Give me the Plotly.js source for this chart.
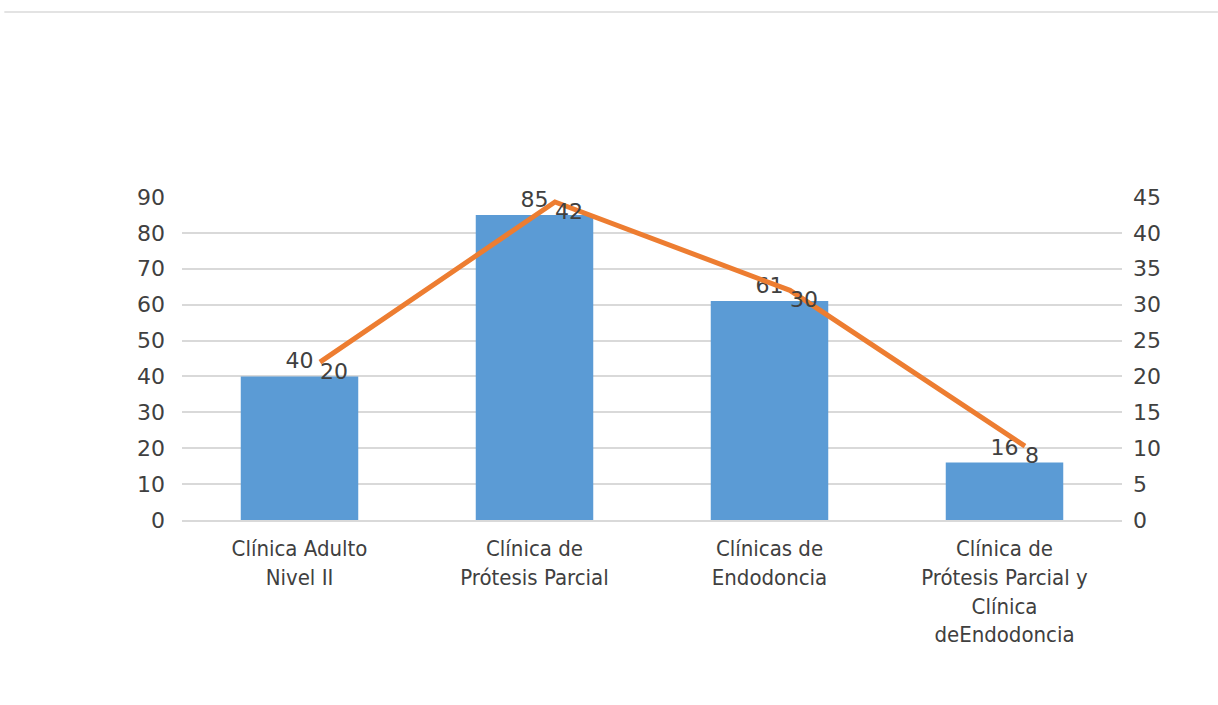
<!DOCTYPE html>
<html>
<head>
<meta charset="utf-8">
<script src="https://cdn.plot.ly/plotly-3.0.1.min.js"></script>
<style>html,body{margin:0;padding:0;background:#fff;}#chart{width:1218px;height:705px;}</style>
</head>
<body>
<div id="chart"></div>
<script>
const categories = ["Clínica Adulto<br>Nivel II", "Clínica de<br>Prótesis Parcial", "Clínicas de<br>Endodoncia", "Clínica de<br>Prótesis Parcial y<br>Clínica<br>deEndodoncia"];
const barValues = [40, 85, 61, 16];
const lineValues = [22, 44.3, 32, 10.3];
const lineLabels = ["20", "42", "30", "8"];
const leftTicks = [0, 10, 20, 30, 40, 50, 60, 70, 80, 90];
const rightTicks = [0, 5, 10, 15, 20, 25, 30, 35, 40, 45];

const idx = categories.map((c, i) => i);
const txt = '#404040';
const fnt = 'DejaVu Sans';

const traces = [
  {
    type: 'bar', x: idx, y: barValues,
    marker: {color: '#5B9BD5'},
    text: barValues.map(String), textposition: 'outside', cliponaxis: false,
    textfont: {family: fnt, size: 22, color: txt},
    xaxis: 'x', yaxis: 'y', hoverinfo: 'none'
  },
  {
    type: 'scatter', mode: 'lines+text', x: idx, y: lineValues,
    line: {color: '#ED7D31', width: 5},
    text: lineLabels, textposition: 'bottom right', cliponaxis: false,
    textfont: {family: fnt, size: 22, color: txt},
    xaxis: 'x2', yaxis: 'y2', hoverinfo: 'none'
  }
];

const layout = {
  width: 1218, height: 705,
  margin: {l: 182, r: 96, t: 197, b: 185},
  paper_bgcolor: '#fff', plot_bgcolor: '#fff',
  showlegend: false, bargap: 0.5,
  font: {family: fnt, size: 22, color: txt},
  xaxis: {
    range: [-0.5, 3.5], tickvals: idx, ticktext: categories,
    showgrid: false, zeroline: false, showline: true, linecolor: '#d9d9d9', linewidth: 2,
    ticks: '', ticklabelstandoff: 8, tickfont: {family: 'DejaVu Sans Condensed', size: 22, color: txt}
  },
  xaxis2: {
    overlaying: 'x', range: [-0.587, 3.413], visible: false
  },
  yaxis: {
    range: [0, 90], tickvals: leftTicks, showgrid: true, gridcolor: '#d9d9d9', gridwidth: 2,
    zeroline: false, ticks: '', ticklabelstandoff: 16, tickfont: {family: fnt, size: 22, color: txt}
  },
  yaxis2: {
    overlaying: 'y', side: 'right', range: [0, 45], tickvals: rightTicks, showgrid: false,
    zeroline: false, ticks: '', ticklabelstandoff: 10, tickfont: {family: fnt, size: 22, color: txt}
  },
  shapes: [{
    type: 'line', xref: 'paper', yref: 'paper',
    x0: -0.189, x1: 1.102, y0: 1.573, y1: 1.573,
    line: {color: '#e3e3e3', width: 2}
  }]
};

Plotly.newPlot('chart', traces, layout, {displayModeBar: false, staticPlot: true});
</script>
</body>
</html>
